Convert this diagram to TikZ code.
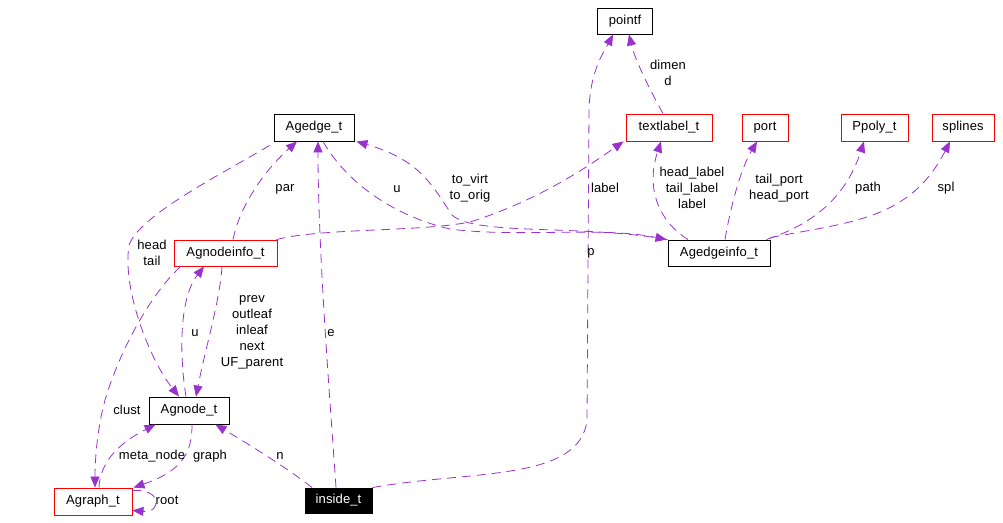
\documentclass[tikz,border=0pt]{standalone}
\usepackage{fontspec}
\setmainfont{Liberation Sans}[LetterSpace=1]
\usetikzlibrary{arrows.meta}
\definecolor{edgepurple}{RGB}{153,50,204}
\definecolor{boxred}{RGB}{255,0,0}
\tikzset{
  cls/.style={draw=black, line width=0.9pt, inner sep=0pt, minimum height=27pt, font=\fontsize{13}{14}\selectfont},
  redcls/.style={cls, draw=boxred},
  blackcls/.style={cls, fill=black, text=white},
  lbl/.style={inner sep=0pt, align=center, font=\fontsize{13}{16}\selectfont},
  rel/.style={draw=edgepurple, line width=0.8pt, dash pattern=on 9pt off 6pt,
    -{Triangle[length=11pt,width=9pt,fill=edgepurple]}}
}
\begin{document}
\begin{tikzpicture}[x=1pt,y=-1pt]
\useasboundingbox (0,0) rectangle (1003,522);
% nodes
\node[cls, minimum width=55pt, minimum height=26pt] (pointf) at (625,21) {pointf};
\node[cls, minimum width=80pt] (Agedge) at (314,127.5) {Agedge\_t};
\node[redcls, minimum width=86pt] (textlabel) at (669,127.5) {textlabel\_t};
\node[redcls, minimum width=46pt] (port) at (765,127.5) {port};
\node[redcls, minimum width=67pt] (Ppoly) at (874.5,127.5) {Ppoly\_t};
\node[redcls, minimum width=62pt] (splines) at (963,127.5) {splines};
\node[redcls, minimum width=103pt, minimum height=26pt] (Agnodeinfo) at (225.5,253) {Agnodeinfo\_t};
\node[cls, minimum width=102pt, minimum height=26pt] (Agedgeinfo) at (719,253) {Agedgeinfo\_t};
\node[cls, minimum width=80pt] (Agnode) at (189,410.5) {Agnode\_t};
\node[redcls, minimum width=78pt] (Agraph) at (93,501.5) {Agraph\_t};
\node[blackcls, minimum width=67pt, minimum height=25pt] (inside) at (338.5,500.5) {inside\_t};

% edges
% head/tail
\draw[rel] ([shift={(-4,4)}]Agedge.south west) .. controls (220,175) and (140,215) .. (129,245)
  .. controls (122,290) and (150,360) .. ([shift={(-10,0)}]Agnode.north);
% clust
\draw[rel] ([shift={(7,0)}]Agnodeinfo.south west) .. controls (150,295) and (120,350) .. (105,400)
  .. controls (97,430) and (95,460) .. ([shift={(2,0)}]Agraph.north);
% u (Agnode -> Agnodeinfo)
\draw[rel] ([shift={(-3,0)}]Agnode.north) .. controls (180,360) and (178,300) .. ([shift={(-21.5,0)}]Agnodeinfo.south);
% prev ...
\draw[rel] ([shift={(-3.5,0)}]Agnodeinfo.south) .. controls (220,300) and (205,350) .. ([shift={(7,0)}]Agnode.north);
% par
\draw[rel] ([shift={(7.5,0)}]Agnodeinfo.north) .. controls (240,205) and (265,170) .. ([shift={(-17,0)}]Agedge.south);
% e
\draw[rel] ([shift={(-2.5,0)}]inside.north) .. controls (330,400) and (318,250) .. ([shift={(4,0)}]Agedge.south);
% u (Agedge -> Agedgeinfo)
\draw[rel] ([shift={(9,0)}]Agedge.south) .. controls (345,180) and (390,215) .. (450,229)
  .. controls (520,238) and (600,226) .. ([shift={(-1,0)}]Agedgeinfo.north west);
% to_virt / to_orig
\draw[rel] (Agedgeinfo.north west) .. controls (580,224) and (475,236) .. (452,215)
  .. controls (432,185) and (420,160) .. ([shift={(2,0)}]Agedge.south east);
% label (Agnodeinfo -> textlabel)
\draw[rel] ([shift={(-1,0)}]Agnodeinfo.north east) .. controls (320,228) and (420,232) .. (470,222)
  .. controls (540,200) and (590,165) .. ([shift={(-2,0)}]textlabel.south west);
% p
\draw[rel] (inside.north east) .. controls (470,470) and (580,482) .. (587,420)
  -- (589,110) .. controls (590,70) and (605,50) .. ([shift={(-12,0)}]pointf.south);
% dimen d
\draw[rel] ([shift={(-6,0)}]textlabel.north) .. controls (650,90) and (635,60) .. ([shift={(4,0)}]pointf.south);
% head_label ...
\draw[rel] ([shift={(-31,0)}]Agedgeinfo.north) .. controls (660,222) and (645,190) .. ([shift={(-8,0)}]textlabel.south);
% tail_port head_port
\draw[rel] ([shift={(6,0)}]Agedgeinfo.north) .. controls (730,210) and (740,170) .. ([shift={(-8,0)}]port.south);
% path
\draw[rel] ([shift={(-4,0)}]Agedgeinfo.north east) .. controls (810,225) and (845,200) .. ([shift={(-10.5,0)}]Ppoly.south);
% spl
\draw[rel] ([shift={(0,-2)}]Agedgeinfo.north east) .. controls (850,222) and (910,220) .. ([shift={(-13,0)}]splines.south);
% graph
\draw[rel] ([shift={(3,0)}]Agnode.south) .. controls (192,450) and (185,470) .. ([shift={(1,0)}]Agraph.north east);
% meta_node
\draw[rel] ([shift={(6,0)}]Agraph.north) .. controls (100,465) and (115,445) .. ([shift={(7,0)}]Agnode.south west);
% root
\draw[rel] ([shift={(0,3)}]Agraph.north east) .. controls (162,488) and (162,513) .. ([shift={(0,-5)}]Agraph.south east);
% n
\draw[rel] ([shift={(-26.5,0)}]inside.north) .. controls (290,470) and (250,445) .. ([shift={(-14,0)}]Agnode.south east);

% labels
\node[lbl] (l_headtail) at (152,253) {head\\tail};
\node[lbl] (l_par) at (285,189) {par};
\node[lbl] (l_u1) at (397,189) {u};
\node[lbl] (l_tovirt) at (470,188) {to\_virt\\to\_orig};
\node[lbl] (l_label) at (605,188) {label};
\node[lbl] (l_p) at (591,253) {p};
\node[lbl] (l_dimen) at (668,73) {dimen\\d};
\node[lbl] (l_headlabel) at (692,188) {head\_label\\tail\_label\\label};
\node[lbl] (l_port) at (779,188) {tail\_port\\head\_port};
\node[lbl] (l_path) at (868,188) {path};
\node[lbl] (l_spl) at (946,188) {spl};
\node[lbl] (l_e) at (331,333) {e};
\node[lbl] (l_u2) at (195,333) {u};
\node[lbl] (l_prev) at (252,332) {prev\\outleaf\\inleaf\\next\\UF\_parent};
\node[lbl] (l_clust) at (127,410) {clust};
\node[lbl] (l_meta) at (152,456) {meta\_node};
\node[lbl] (l_graph) at (210,456) {graph};
\node[lbl] (l_n) at (280,456) {n};
\node[lbl] (l_root) at (167,500) {root};
\end{tikzpicture}
\end{document}
